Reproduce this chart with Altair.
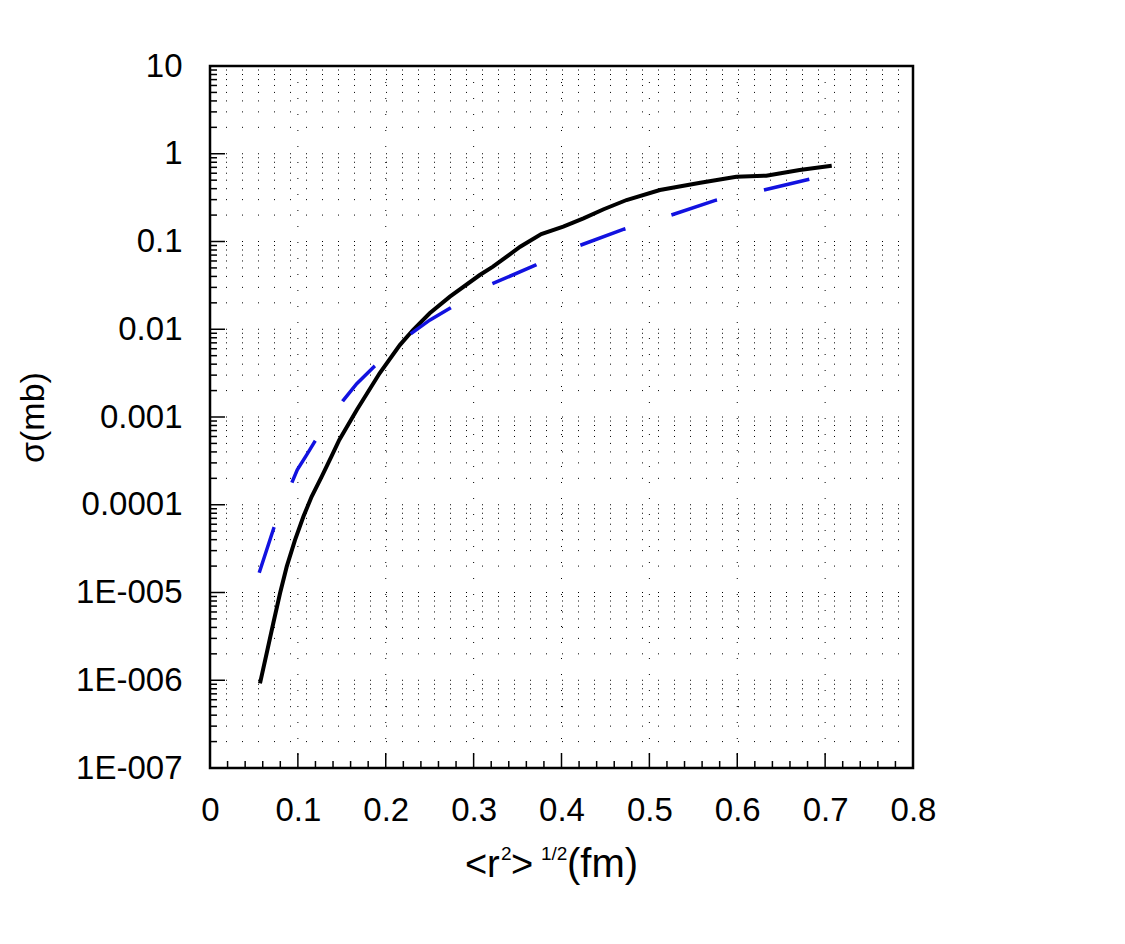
import altair as alt
import pandas as pd

# solid black curve
black_x = [0.0569, 0.0645, 0.0720, 0.0797, 0.0873, 0.0967, 0.1062, 0.1157, 0.1271, 0.1385,
           0.1471, 0.167, 0.193, 0.216, 0.231, 0.250, 0.273, 0.307, 0.322, 0.353,
           0.377, 0.402, 0.425, 0.448, 0.474, 0.512, 0.558, 0.599, 0.633, 0.671, 0.7075]
black_y = [9.2e-7, 2.03e-6, 4.46e-6, 9.8e-6, 1.97e-5, 3.96e-5, 7.3e-5, 1.24e-4, 2.09e-4, 3.6e-4,
           5.47e-4, 1.2e-3, 3.15e-3, 6.6e-3, 9.8e-3, 0.0152, 0.0235, 0.0415, 0.0516, 0.0873,
           0.1216, 0.1475, 0.1836, 0.233, 0.297, 0.386, 0.468, 0.548, 0.562, 0.653, 0.731]

# dashed blue curve
blue_x = [0.056, 0.0728, 0.0933, 0.0993, 0.110, 0.1195, 0.151, 0.167, 0.1866, 0.2276,
          0.250, 0.273, 0.3205, 0.371, 0.420, 0.471, 0.524, 0.575, 0.630, 0.682]
blue_y = [1.68e-5, 5.5e-5, 1.8e-4, 2.5e-4, 3.7e-4, 5.3e-4, 1.52e-3, 2.4e-3, 3.74e-3, 8.75e-3,
          0.0127, 0.0173, 0.0328, 0.054, 0.0895, 0.138, 0.199, 0.294, 0.386, 0.512]

# axis ticks
x_major = [0, 0.1, 0.2, 0.3, 0.4, 0.5, 0.6, 0.7, 0.8]
x_minor = [round(0.02 * i, 2) for i in range(1, 40) if i % 5 != 0]
y_exponents = [-7, -6, -5, -4, -3, -2, -1, 0, 1]
y_major = [10.0 ** e for e in y_exponents]
y_minor = [k * 10.0 ** e for e in y_exponents[:-1] for k in range(2, 10)]
y_labels = ["1E-007", "1E-006", "1E-005", "0.0001", "0.001", "0.01", "0.1", "1", "10"]

W, H = 703, 702
FONT = "Liberation Sans"

xscale = alt.Scale(domain=[0, 0.8], nice=False, zero=False)
yscale = alt.Scale(type="log", domain=[1e-7, 10], nice=False)

xaxis = alt.Axis(values=x_major, format=".1~f", grid=False, ticks=False, tickSize=0,
                 domain=False, labelFont=FONT, labelFontSize=33, labelColor="black",
                 labelBaseline="alphabetic", labelPadding=52, labelFlush=False,
                 labelOverlap=False, title=None)
label_list = "[" + ",".join("'%s'" % s for s in y_labels) + "]"
yaxis = alt.Axis(values=y_major, labelExpr=label_list + "[round(log(datum.value)/LN10)+7]",
                 grid=False, ticks=False, tickSize=0, domain=False,
                 labelFont=FONT, labelFontSize=33, labelColor="black",
                 labelPadding=28, labelFlush=False, labelOverlap=False,
                 title="σ(mb)", titleFont=FONT, titleFontSize=34, titleFontWeight="normal",
                 titleColor="black", titleAngle=270, titleX=-177, titleY=351,
                 titleAlign="center", titleBaseline="middle")


def X(field):
    return alt.X(field, type="quantitative", scale=xscale, axis=xaxis)


def Y(field):
    return alt.Y(field, type="quantitative", scale=yscale, axis=yaxis)


hgrid = alt.Chart(pd.DataFrame({"v": y_major[1:-1] + y_minor})).mark_rule(
    color="black", strokeWidth=1, strokeDash=[1, 15]
).encode(y=Y("v"), x=alt.value(0), x2=alt.value(W))

vgrid = alt.Chart(pd.DataFrame({"v": x_major[1:-1]})).mark_rule(
    color="black", strokeWidth=1, strokeDash=[1, 15]
).encode(x=X("v"), y=alt.value(0), y2=alt.value(H))

ytick_major = alt.Chart(pd.DataFrame({"v": y_major})).mark_rule(
    color="black", strokeWidth=1.5
).encode(y=Y("v"), x=alt.value(0), x2=alt.value(15))
ytick_minor = alt.Chart(pd.DataFrame({"v": y_minor})).mark_rule(
    color="black", strokeWidth=1.5
).encode(y=Y("v"), x=alt.value(0), x2=alt.value(7))
xtick_major = alt.Chart(pd.DataFrame({"v": x_major})).mark_rule(
    color="black", strokeWidth=1.5
).encode(x=X("v"), y=alt.value(H), y2=alt.value(H - 15))
xtick_minor = alt.Chart(pd.DataFrame({"v": x_minor})).mark_rule(
    color="black", strokeWidth=1.5
).encode(x=X("v"), y=alt.value(H), y2=alt.value(H - 7))

black_line = alt.Chart(pd.DataFrame({"r": black_x, "s": black_y})).mark_line(
    color="black", strokeWidth=4
).encode(x=X("r"), y=Y("s"))

blue_line = alt.Chart(pd.DataFrame({"r": blue_x, "s": blue_y})).mark_line(
    color="#1212e0", strokeWidth=3.5, strokeDash=[48, 48]
).encode(x=X("r"), y=Y("s"))


def piece(txt, px, py, size):
    return alt.Chart(pd.DataFrame({"t": [txt]})).mark_text(
        font=FONT, fontSize=size, color="black", align="left", baseline="alphabetic"
    ).encode(text="t:N", x=alt.value(px), y=alt.value(py))


# x title: <r^2>^{1/2}(fm)
xtitle = [
    piece("<", 255, 811, 38),
    piece("r", 277, 811, 38),
    piece("2", 291, 794, 19),
    piece(">", 301, 811, 38),
    piece("1/2", 331, 794, 19),
    piece("(fm)", 357, 811, 40),
]

chart = alt.layer(
    hgrid, vgrid, black_line, blue_line,
    ytick_major, ytick_minor, xtick_major, xtick_minor, *xtitle
).properties(
    width=W, height=H,
    autosize=alt.AutoSizeParams(type="none"),
    padding={"left": 202, "top": 58, "right": 200, "bottom": 160},
).configure_view(stroke="black", strokeWidth=2.5)

chart.save("out.html", embed_options={"renderer": "svg", "actions": False})
